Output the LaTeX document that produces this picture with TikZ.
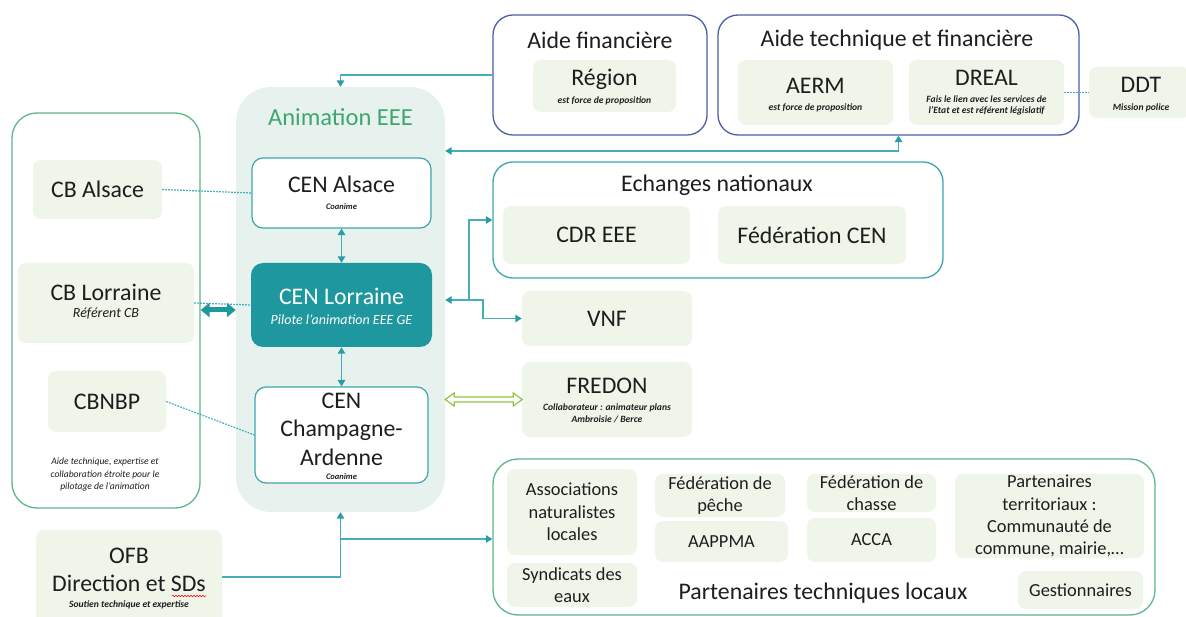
\documentclass[tikz,border=0pt]{standalone}
\usepackage{fontspec}
\setmainfont{Carlito}
\usetikzlibrary{arrows.meta,decorations.pathmorphing}
\definecolor{txt}{HTML}{1E1E1E}
\definecolor{subtxt}{HTML}{3A3A3A}
\definecolor{boxgreen}{HTML}{F0F5EA}
\definecolor{animbg}{HTML}{E7F2EF}
\definecolor{conn}{HTML}{45AEB6}
\definecolor{tipc}{HTML}{2A9CA4}
\definecolor{cenlor}{HTML}{1F979E}
\definecolor{tealb}{HTML}{3CA6AE}
\definecolor{bluec}{HTML}{4B5EA6}
\definecolor{greenc}{HTML}{5DB687}
\definecolor{animtxt}{HTML}{3EA66E}
\definecolor{fredc}{HTML}{8DC63F}
\newcommand\szBig{\fontsize{23.8}{28.5}\selectfont}
\newcommand\szAnim{\fontsize{24.5}{28}\selectfont}
\newcommand\szMed{\fontsize{18.4}{22.3}\selectfont}
\newcommand\szIt{\fontsize{14}{16}\selectfont\itshape}
\newcommand\szTiny{\fontsize{9.6}{11.3}\selectfont\bfseries\itshape\color{subtxt}}
\newcommand\szCap{\fontsize{9.6}{12.5}\selectfont\itshape\color{subtxt}}
\newcommand\szMicro{\fontsize{8.5}{10}\selectfont\bfseries\itshape\color{subtxt}}
\begin{document}
\begin{tikzpicture}[x=1pt,y=-1pt,
  every node/.style={inner sep=0pt, text=txt, align=center},
  lg/.style={fill=boxgreen, rounded corners=8pt},
  bluebox/.style={draw=bluec, line width=1.3pt, rounded corners=20pt, fill=white},
  greenbox/.style={draw=greenc, line width=1.3pt, rounded corners=25pt, fill=white},
  tealbox/.style={draw=tealb, line width=1.3pt, rounded corners=20pt, fill=white},
  cenbox/.style={draw=tealb, line width=1.2pt, rounded corners=11pt, fill=white},
  cnx/.style={draw=conn, line width=1.5pt},
  tip/.tip={Triangle[length=6.5pt,width=7.5pt,color=tipc]},
  dotc/.style={draw=conn, line width=1.2pt, dash pattern=on 1.8pt off 1.2pt},
]
\useasboundingbox (0,0) rectangle (1186,617);

% ---------- containers ----------
\node[bluebox, minimum width=214pt, minimum height=120pt] (aidefin) at (600,75) {};
\node[bluebox, minimum width=361pt, minimum height=120pt] (aidetech) at (898.5,75) {};
\node[fill=animbg, rounded corners=35pt, minimum width=209pt, minimum height=425pt] (anim) at (340.5,299.5) {};
\node[greenbox, minimum width=188pt, minimum height=395pt] (leftbox) at (106,310.5) {};
\node[tealbox, minimum width=450pt, minimum height=116pt] (echanges) at (718,220) {};
\node[greenbox, minimum width=662pt, minimum height=156pt] (partn) at (824,537) {};

% ---------- titles ----------
\node[font=\szBig] (aidefinT) at (600,40) {Aide financière};
\node[font=\szBig] (aidetechT) at (897,40) {Aide technique et financière};
\node[font=\szAnim, text=animtxt] (animT) at (340.5,117) {Animation EEE};
\node[font=\szBig] (echangesT) at (717,185) {Echanges nationaux};
\node[font=\szBig] (partnT) at (823,593) {Partenaires techniques locaux};

% ---------- top financing ----------
\node[lg, minimum width=143pt, minimum height=52pt] (region) at (604.5,86) {};
\node[font=\szBig] (regionT) at (604.5,79) {Région};
\node[font=\szTiny] (regionS) at (604.5,101) {est force de proposition};

\node[lg, minimum width=155pt, minimum height=65pt] (aerm) at (815.5,92.5) {};
\node[font=\szBig] (aermT) at (815.5,86) {AERM};
\node[font=\szTiny] (aermS) at (815.5,108) {est force de proposition};

\node[lg, minimum width=155pt, minimum height=65pt] (dreal) at (986.5,92.5) {};
\node[font=\szBig] (drealT) at (986.5,78) {DREAL};
\node[font=\szTiny] (drealS) at (986.5,105.5) {Fais le lien avec les services de\\l’Etat et est référent législatif};

\node[lg, minimum width=101pt, minimum height=51pt] (ddt) at (1139.5,92.5) {};
\node[font=\szBig] (ddtT) at (1141,85) {DDT};
\node[font=\szTiny] (ddtS) at (1141,108) {Mission police};

% ---------- animation EEE ----------
\node[cenbox, minimum width=179pt, minimum height=70pt] (cenalsace) at (341.5,193) {};
\node[font=\szBig] (cenalsaceT) at (341.5,184) {CEN Alsace};
\node[font=\szMicro] (cenalsaceS) at (341.5,207) {Coanime};

\node[fill=cenlor, rounded corners=12pt, minimum width=181pt, minimum height=84pt] (cenlorb) at (341.5,305) {};
\node[font=\szBig, text=white] (cenlorT) at (341.5,296) {CEN Lorraine};
\node[font=\szIt, text=white] (cenlorS) at (341.5,320) {Pilote l’animation EEE GE};

\node[cenbox, minimum width=173pt, minimum height=96pt] (cenchamp) at (341.5,435) {};
\node[font=\szBig] (cenchampT) at (341.5,429) {CEN\\Champagne-\\Ardenne};
\node[font=\szMicro] (cenchampS) at (341.5,477) {Coanime};

% ---------- left box ----------
\node[lg, minimum width=129pt, minimum height=59pt, font=\szBig] (cbalsace) at (97.5,189.5) {CB Alsace};
\node[lg, minimum width=176pt, minimum height=80pt] (cblor) at (106,303) {};
\node[font=\szBig] (cblorT) at (106,292.5) {CB Lorraine};
\node[font=\szIt] (cblorS) at (106,314) {Référent CB};
\node[lg, minimum width=118pt, minimum height=61pt, font=\szBig] (cbnbp) at (107,401.5) {CBNBP};
\node[font=\szCap] (leftcap) at (105,474.5) {Aide technique, expertise et\\collaboration étroite pour le\\pilotage de l’animation};

% ---------- national / partners ----------
\node[lg, minimum width=187pt, minimum height=58pt, font=\szBig] (cdr) at (596.5,235) {CDR EEE};
\node[lg, minimum width=188pt, minimum height=58pt, font=\szBig] (fedcen) at (812,235) {Fédération CEN};
\node[lg, minimum width=170pt, minimum height=55pt, font=\szBig] (vnf) at (607,318.5) {VNF};
\node[lg, minimum width=170pt, minimum height=75pt] (fredon) at (607,399.5) {};
\node[font=\szBig] (fredonT) at (607,386) {FREDON};
\node[font=\szTiny] (fredonS) at (607,413.5) {Collaborateur : animateur plans\\Ambroisie / Berce};

% ---------- OFB ----------
\node[lg, minimum width=186pt, minimum height=100pt] (ofb) at (129,580) {};
\node[font=\szBig] (ofbT) at (129,570) {OFB\\Direction et SDs};
\node[font=\szTiny] (ofbS) at (129,605) {Soutien technique et expertise};
\draw[red, line width=0.6pt, decorate, decoration={snake, amplitude=0.7pt, segment length=3pt}] (172,596) -- (206,596);

% ---------- local partners ----------
\node[lg, minimum width=130pt, minimum height=86pt, font=\szMed] (assoc) at (572,512) {Associations\\naturalistes\\locales};
\node[lg, minimum width=130pt, minimum height=44pt, font=\szMed] (synd) at (572,585) {Syndicats des\\eaux};
\node[lg, minimum width=130pt, minimum height=43pt, font=\szMed] (fedpeche) at (720,495.5) {Fédération de\\pêche};
\node[lg, minimum width=133pt, minimum height=41pt, font=\szMed] (aappma) at (721.5,541.5) {AAPPMA};
\node[lg, minimum width=129pt, minimum height=38pt, font=\szMed] (fedchasse) at (871.5,493) {Fédération de\\chasse};
\node[lg, minimum width=129pt, minimum height=44pt, font=\szMed] (acca) at (871.5,540) {ACCA};
\node[lg, minimum width=189pt, minimum height=84pt, font=\szMed] (parterr) at (1049.5,516) {Partenaires\\territoriaux :\\Communauté de\\commune, mairie,…};
\node[lg, minimum width=125pt, minimum height=38pt, font=\szMed] (gest) at (1080.5,590) {Gestionnaires};

% ---------- connectors ----------
\coordinate (t2) at (600,151);
\coordinate (br) at (469,300);
\coordinate (br2) at (483,300);
\coordinate (ob) at (340.5,539);
\coordinate (fl) at (anim.east |- fredon.west);

\draw[cnx, -{tip}] (aidefin.west) -| (anim.north);
\draw[cnx, {tip}-{tip}] (anim.east |- t2) -| (aidetech.south);
\draw[cnx, -{tip}] (br) -- (anim.east |- br);
\draw[cnx, -{tip}] (br) |- (echanges.west);
\draw[cnx, -{tip}] (br) -- (br2) |- (vnf.west);
\draw[cnx, {tip}-{tip}] (cenalsace.south) -- (cenlorb.north);
\draw[cnx, {tip}-{tip}] (cenlorb.south) -- (cenchamp.north);
\draw[cnx, -{tip}] (ofb.east |- 0,577) -| (anim.south);
\draw[cnx, -{tip}] (ob) -- (partn.west |- ob);

\draw[dotc] (cbalsace.east) -- (cenalsace.west);
\draw[dotc] (cblor.east) -- (cenlorb.west);
\draw[dotc] (cbnbp.east) -- (cenchamp.west);
\draw[dotc] (dreal.east) -- (ddt.west);

\draw[draw=cenlor, line width=5pt, {Triangle[length=9pt,width=14pt]}-{Triangle[length=9pt,width=14pt]}] (leftbox.east |- 0,310) -- (anim.west |- 0,310);
% hollow double arrow towards FREDON
\draw[draw=fredc, line width=1.2pt, fill=white, line join=miter]
  (fl) -- ++(9,6.5) -- ++(0,-4) -- ++(59,0) -- ++(0,4) -- ++(9,-6.5)
  -- ++(-9,-6.5) -- ++(0,4) -- ++(-59,0) -- ++(0,-4) -- cycle;
\end{tikzpicture}
\end{document}
